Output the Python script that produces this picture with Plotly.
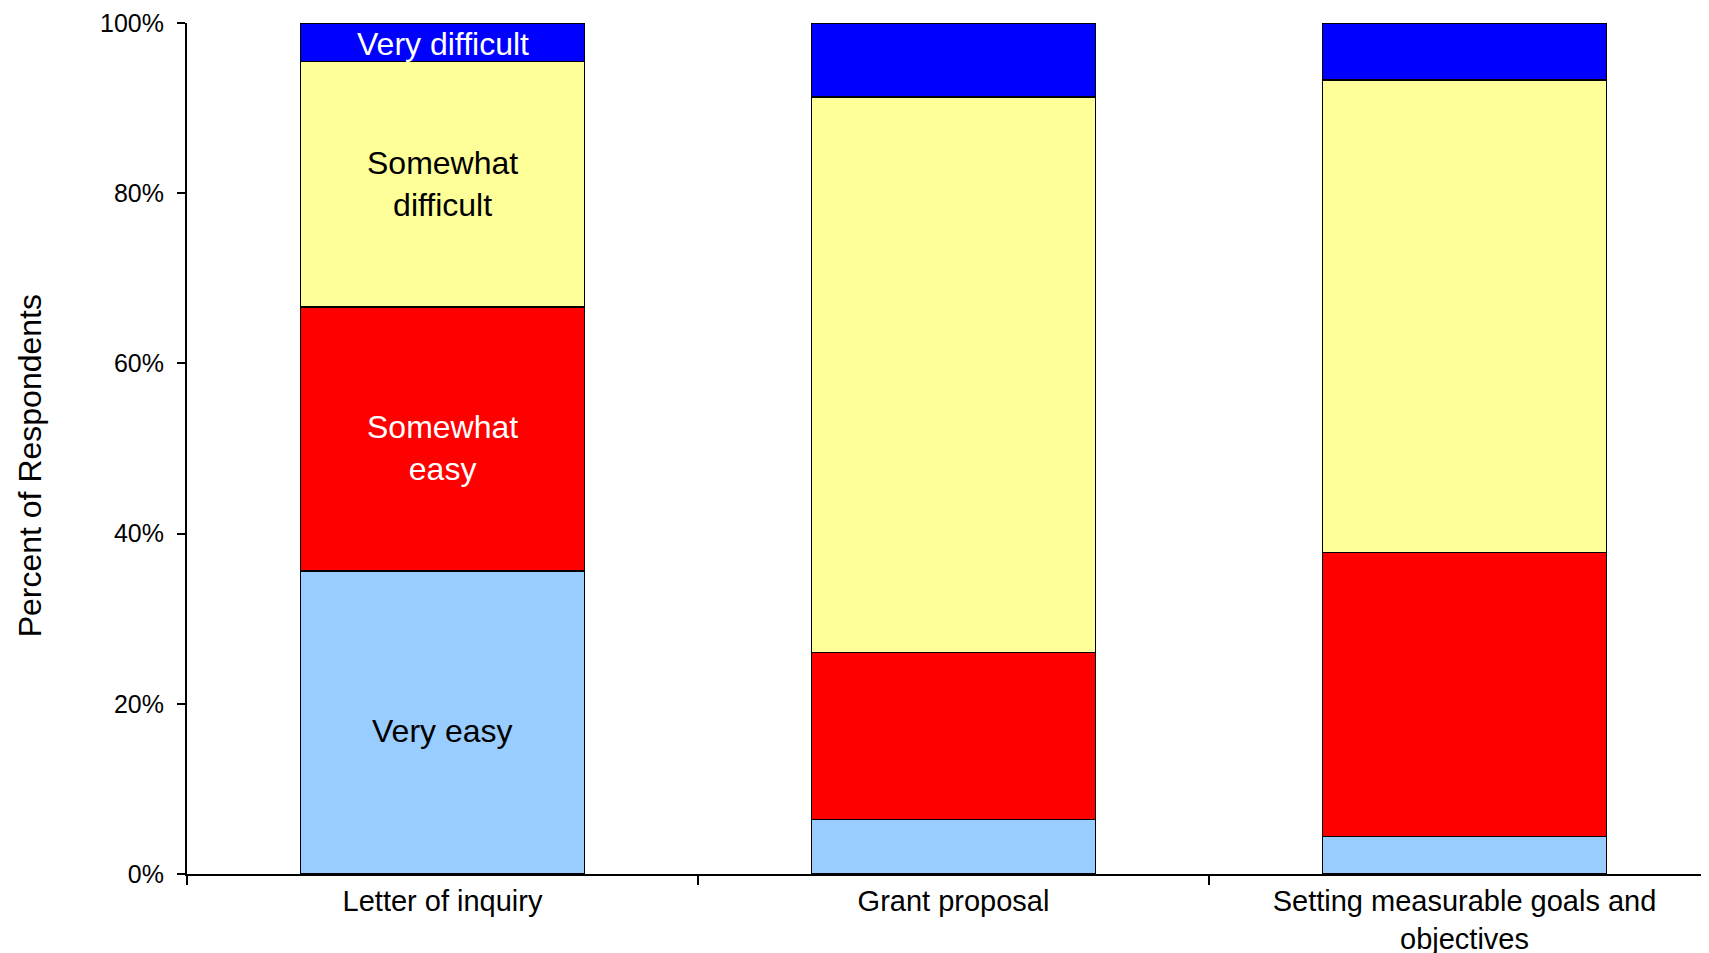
import plotly.graph_objects as go

categories = ["Letter of inquiry", "Grant proposal", "Setting measurable goals and<br>objectives"]
series_names = ["Very easy", "Somewhat easy", "Somewhat difficult", "Very difficult"]
very_easy = [35.6, 6.4, 4.4]
somewhat_easy = [31.0, 19.6, 33.4]
somewhat_difficult = [28.9, 65.3, 55.5]
very_difficult = [4.5, 8.7, 6.7]
segment_labels = ["Very easy", "Somewhat<br>easy", "Somewhat<br>difficult", "Very difficult"]
y_ticks = [0, 20, 40, 60, 80, 100]
y_title = "Percent of Respondents"

values = [very_easy, somewhat_easy, somewhat_difficult, very_difficult]
colors = ["#99CCFF", "#FF0000", "#FFFF99", "#0000FF"]
text_colors = ["black", "white", "black", "white"]
label_shift = [-8, -9, 0, -2]

FONT = "Liberation Sans, Arial, sans-serif"

fig = go.Figure()
for name, vals, col in zip(series_names, values, colors):
    fig.add_trace(go.Bar(
        x=categories, y=vals, name=name,
        marker=dict(color=col, line=dict(color="black", width=1.5)),
        hoverinfo="skip",
    ))

# segment labels on the first bar, centred on each segment
base = 0.0
for vals, lab, tcol, dy in zip(values, segment_labels, text_colors, label_shift):
    fig.add_annotation(
        x=categories[0], y=base + vals[0] / 2, xref="x", yref="y",
        text=lab, showarrow=False, yshift=dy,
        font=dict(family=FONT, size=32, color=tcol),
    )
    base += vals[0]

FIG_W = 1709
PLOT_W = FIG_W - 179 - 8
fig.update_layout(
    barmode="stack", bargap=0.444,
    width=FIG_W, height=953,
    margin=dict(l=179, r=8, t=15, b=87),
    paper_bgcolor="white", plot_bgcolor="white",
    showlegend=False,
    font=dict(family=FONT, color="black"),
)
fig.update_xaxes(
    type="category",
    range=[-0.5, -0.5 + PLOT_W / 511],
    tickson="boundaries", ticks="outside", ticklen=9, tickwidth=1.5, tickcolor="black",
    showline=True, linecolor="black", linewidth=2,
    showgrid=False, zeroline=False, automargin=False,
    ticklabelstandoff=0,
    tickfont=dict(family=FONT, size=29, color="black"),
)
fig.update_yaxes(
    range=[0, 100], tickmode="array", tickvals=y_ticks,
    ticktext=[f"{v}%" for v in y_ticks],
    ticks="outside", ticklen=8, tickwidth=1.5, tickcolor="black",
    showline=True, linecolor="black", linewidth=2,
    showgrid=False, zeroline=False, automargin=False,
    ticklabelstandoff=8,
    tickfont=dict(family=FONT, size=25, color="black"),
)
fig.add_annotation(
    text=y_title, textangle=-90, showarrow=False,
    xref="paper", yref="paper", x=-(179 - 22) / PLOT_W, y=0.479,
    xanchor="center", yanchor="middle",
    font=dict(family=FONT, size=32, color="black"),
)
fig.write_html("out.html")
